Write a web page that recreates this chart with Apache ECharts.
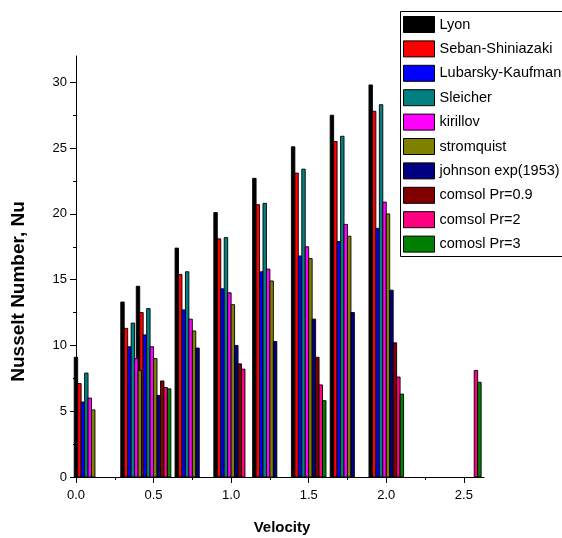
<!DOCTYPE html>
<html><head><meta charset="utf-8">
<script src="https://cdn.jsdelivr.net/npm/echarts@6/dist/echarts.min.js"></script>
<style>html,body{margin:0;padding:0;background:#fff}#c{width:562px;height:538px}</style>
</head><body><div id="c"></div><script>
// Velocity positions of the bar groups
const velocity = [0.1, 0.4, 0.5, 0.75, 1.0, 1.25, 1.5, 1.75, 2.0, 2.5];

// Nusselt numbers per series (null = no bar)
const lyon        = [9.1, 13.3, 14.5, 17.4, 20.1, 22.7, 25.1, 27.5, 29.8, null];
const seban       = [7.1, 11.3, 12.5, 15.4, 18.1, 20.7, 23.1, 25.5, 27.8, null];
const lubarsky    = [5.7, 9.9, 10.8, 12.7, 14.3, 15.6, 16.8, 17.9, 18.9, null];
const sleicher    = [7.9, 11.7, 12.8, 15.6, 18.2, 20.8, 23.4, 25.9, 28.3, null];
const kirillov    = [6.0, 9.0, 9.9, 12.0, 14.0, 15.8, 17.5, 19.2, 20.9, null];
const stromquist  = [5.1, 8.1, 9.0, 11.1, 13.1, 14.9, 16.6, 18.3, 20.0, null];
const johnson     = [null, null, 6.2, 9.8, 10.0, 10.3, 12.0, 12.5, 14.2, null];
const comsolPr09  = [null, null, 7.3, null, 8.6, null, 9.1, null, 10.2, null];
const comsolPr2   = [null, null, 6.8, null, 8.2, null, 7.0, null, 7.6, 8.1];
const comsolPr3   = [null, null, 6.7, null, null, null, 5.8, null, 6.3, 7.2];

const seriesNames = ['Lyon', 'Seban-Shiniazaki', 'Lubarsky-Kaufman', 'Sleicher', 'kirillov',
  'stromquist', 'johnson exp(1953)', 'comsol Pr=0.9', 'comsol Pr=2', 'comosl Pr=3'];
const seriesValues = [lyon, seban, lubarsky, sleicher, kirillov, stromquist, johnson, comsolPr09, comsolPr2, comsolPr3];
const seriesColors = ['#000000', '#ff0000', '#0000ff', '#008080', '#ff00ff',
  '#808000', '#000080', '#800000', '#ff0080', '#008000'];

const xMajorTicks = [0, 0.5, 1.0, 1.5, 2.0, 2.5];
const xMinorTicks = [0.25, 0.75, 1.25, 1.75, 2.25];
const yMajorTicks = [0, 5, 10, 15, 20, 25, 30];
const yMinorTicks = [2.5, 7.5, 12.5, 17.5, 22.5, 27.5];

const SLOT = 0.0223; // width of one bar slot in velocity units
const NS = seriesNames.length;
const FONT = 'Liberation Sans, Arial, sans-serif';

const chart = echarts.init(document.getElementById('c'), null, {renderer: 'canvas'});

const series = seriesNames.map((name, si) => ({
  name: name,
  type: 'custom',
  xAxisIndex: 0, yAxisIndex: 0,
  itemStyle: {color: seriesColors[si]},
  encode: {x: 0, y: 1},
  data: velocity.map((v, i) => [v, seriesValues[si][i]]).filter(d => d[1] != null),
  renderItem: function (params, api) {
    const x = api.value(0), y = api.value(1);
    const base = api.coord([x, 0]);
    const top = api.coord([x, y]);
    const w = api.size([SLOT, 0])[0];
    const left = base[0] + (si - NS / 2) * w;
    return {
      type: 'rect',
      shape: {x: left, y: top[1], width: w, height: base[1] - top[1]},
      style: {fill: api.visual('color'), stroke: '#000', lineWidth: 0.9}
    };
  }
}));

const axisLineStyle = {color: '#000', width: 1};

chart.setOption({
  animation: false,
  backgroundColor: '#fff',
  grid: {left: 76, right: 78, top: 56, bottom: 61},
  legend: {
    orient: 'vertical', left: 400, top: 11,
    padding: [5, 5, 5, 3],
    itemWidth: 31, itemHeight: 16, itemGap: 7.4,
    icon: 'rect',
    borderWidth: 0,
    itemStyle: {borderColor: '#000', borderWidth: 1},
    textStyle: {fontFamily: FONT, fontSize: 14.5, color: '#000'},
    data: seriesNames
  },
  xAxis: [{
    type: 'value', min: 0, max: 2.63, position: 'bottom',
    splitLine: {show: false},
    axisLine: {show: true, onZero: false, lineStyle: axisLineStyle},
    axisTick: {show: true, length: 6, customValues: xMajorTicks, lineStyle: axisLineStyle},
    axisLabel: {customValues: xMajorTicks, margin: 12, fontFamily: FONT, fontSize: 13, color: '#000',
      formatter: v => v.toFixed(1)}
  }, {
    type: 'value', min: 0, max: 2.63, position: 'bottom',
    splitLine: {show: false},
    axisLine: {show: false, onZero: false},
    axisTick: {show: true, length: 3, customValues: xMinorTicks, lineStyle: axisLineStyle},
    axisLabel: {show: false}
  }],
  yAxis: [{
    type: 'value', min: 0, max: 32, position: 'left',
    splitLine: {show: false},
    axisLine: {show: true, onZero: false, lineStyle: axisLineStyle},
    axisTick: {show: true, length: 6, customValues: yMajorTicks, lineStyle: axisLineStyle},
    axisLabel: {customValues: yMajorTicks, margin: 9, fontFamily: FONT, fontSize: 13, color: '#000'}
  }, {
    type: 'value', min: 0, max: 32, position: 'left',
    splitLine: {show: false},
    axisLine: {show: false, onZero: false},
    axisTick: {show: true, length: 3, customValues: yMinorTicks, lineStyle: axisLineStyle},
    axisLabel: {show: false}
  }],
  graphic: [{
    type: 'rect', z: 100, silent: true,
    shape: {x: 400.5, y: 11.5, width: 220, height: 245},
    style: {fill: 'none', stroke: '#000', lineWidth: 1}
  }, {
    type: 'text', x: 18.5, y: 291.5, rotation: Math.PI / 2,
    style: {text: 'Nusselt Number, Nu', font: 'bold 19px ' + FONT, fill: '#000',
      textAlign: 'center', textVerticalAlign: 'middle'}
  }, {
    type: 'text', x: 282, y: 528,
    style: {text: 'Velocity', font: 'bold 15px ' + FONT, fill: '#000',
      textAlign: 'center', textVerticalAlign: 'middle'}
  }],
  series: series
});
</script></body></html>
